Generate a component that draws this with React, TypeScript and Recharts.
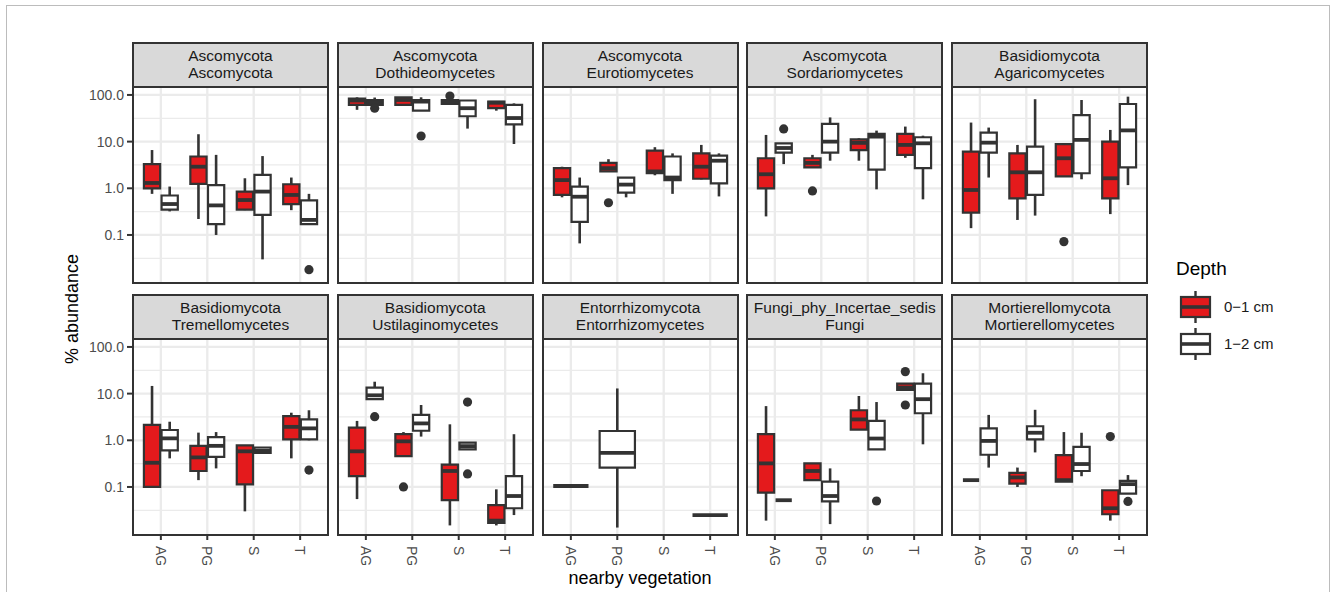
import React from 'react'
import {
  ComposedChart,
  XAxis,
  YAxis,
  CartesianGrid,
  ReferenceArea,
  ReferenceLine,
  Scatter,
} from 'recharts'

// [lower whisker, Q1, median, Q3, upper whisker] per vegetation type; null = no samples
type Stat = [number, number, number, number, number] | null
// [vegetation index, depth index, value]
type Outlier = [number, number, number]

const vegetation = ['AG', 'PG', 'S', 'T']
const depthLabels = ['0\u22121 cm', '1\u22122 cm']
const depthFills = ['#e41a1c', '#ffffff']
const yTicks = [0.1, 1, 10, 100]
const yMinorTicks = [0.0316, 0.316, 3.16, 31.6]

const stripLabels = [
  ['Ascomycota', 'Ascomycota'],
  ['Ascomycota', 'Dothideomycetes'],
  ['Ascomycota', 'Eurotiomycetes'],
  ['Ascomycota', 'Sordariomycetes'],
  ['Basidiomycota', 'Agaricomycetes'],
  ['Basidiomycota', 'Tremellomycetes'],
  ['Basidiomycota', 'Ustilaginomycetes'],
  ['Entorrhizomycota', 'Entorrhizomycetes'],
  ['Fungi_phy_Incertae_sedis', 'Fungi'],
  ['Mortierellomycota', 'Mortierellomycetes'],
]

const ascomycotaShallow: Stat[] = [
  [0.76, 1.0, 1.3, 3.3, 6.6],
  [0.22, 1.24, 2.9, 4.8, 14.4],
  [0.34, 0.35, 0.56, 0.85, 1.64],
  [0.34, 0.46, 0.72, 1.22, 1.7],
]
const ascomycotaDeep: Stat[] = [
  [0.32, 0.35, 0.46, 0.7, 1.09],
  [0.1, 0.17, 0.43, 1.17, 5.2],
  [0.03, 0.27, 0.85, 1.93, 4.9],
  [0.17, 0.17, 0.21, 0.55, 0.76],
]
const ascomycotaOut: Outlier[] = [[3, 1, 0.018]]

const dothideoShallow: Stat[] = [
  [48, 61, 76, 84, 89],
  [61, 61, 78, 89, 89],
  [64, 64, 72, 78, 78],
  [46, 52, 68, 72, 74],
]
const dothideoDeep: Stat[] = [
  [61, 61, 68, 78, 88],
  [46, 46, 72, 78, 89],
  [19, 35, 52, 76, 78],
  [8.9, 23.5, 32, 61, 66],
]
const dothideoOut: Outlier[] = [[0, 1, 52], [1, 1, 13.2], [2, 0, 95]]

const eurotioShallow: Stat[] = [
  [0.64, 0.72, 1.5, 2.7, 2.9],
  [2.3, 2.3, 2.7, 3.5, 4.2],
  [1.9, 2.1, 2.3, 6.4, 7.6],
  [1.55, 1.6, 2.9, 5.6, 8.5],
]
const eurotioDeep: Stat[] = [
  [0.066, 0.19, 0.66, 1.09, 1.7],
  [0.64, 0.81, 1.2, 1.7, 1.7],
  [0.76, 1.5, 1.7, 4.8, 5.6],
  [0.67, 1.28, 3.9, 5.0, 5.6],
]
const eurotioOut: Outlier[] = [[1, 0, 0.49]]

const sordarioShallow: Stat[] = [
  [0.25, 1.0, 2.0, 4.4, 13.9],
  [2.8, 2.8, 3.5, 4.4, 5.2],
  [3.9, 6.6, 9.4, 11.2, 11.8],
  [4.5, 5.2, 8.5, 14.6, 21],
]
const sordarioDeep: Stat[] = [
  [3.3, 5.8, 7.3, 9.2, 9.2],
  [3.9, 5.8, 10, 24, 33],
  [0.95, 2.5, 12.8, 14.6, 17.2],
  [0.58, 2.7, 9.2, 12.4, 13.4],
]
const sordarioOut: Outlier[] = [[0, 1, 18.7], [1, 0, 0.88]]

const agaricoShallow: Stat[] = [
  [0.14, 0.3, 0.92, 6.1, 25.6],
  [0.21, 0.61, 2.2, 5.6, 8.5],
  [1.8, 1.8, 4.4, 8.8, 9.2],
  [0.28, 0.61, 1.64, 10, 17.8],
]
const agaricoDeep: Stat[] = [
  [1.7, 5.8, 9.5, 15.6, 20],
  [0.26, 0.72, 2.2, 7.8, 81],
  [1.56, 2.1, 10.9, 37, 78],
  [1.17, 2.8, 17.4, 64, 92],
]
const agaricoOut: Outlier[] = [[2, 0, 0.072]]

const tremelloShallow: Stat[] = [
  [0.1, 0.1, 0.33, 2.15, 14.6],
  [0.14, 0.22, 0.43, 0.76, 1.46],
  [0.03, 0.114, 0.58, 0.78, 0.78],
  [0.41, 1.05, 1.94, 3.3, 3.9],
]
const tremelloDeep: Stat[] = [
  [0.41, 0.61, 1.1, 1.66, 2.5],
  [0.25, 0.44, 0.76, 1.17, 1.5],
  [0.54, 0.54, 0.6, 0.7, 0.7],
  [1.0, 1.05, 1.8, 2.8, 4.4],
]
const tremelloOut: Outlier[] = [[3, 1, 0.23]]

const ustilagoShallow: Stat[] = [
  [0.055, 0.17, 0.58, 1.87, 2.6],
  [0.46, 0.46, 0.95, 1.35, 1.5],
  [0.015, 0.052, 0.22, 0.3, 2.2],
  [0.015, 0.017, 0.019, 0.041, 0.089],
]
const ustilagoDeep: Stat[] = [
  [7.6, 7.6, 9.2, 13.5, 18],
  [1.2, 1.6, 2.3, 3.5, 5.7],
  [0.64, 0.64, 0.75, 0.89, 0.89],
  [0.025, 0.035, 0.064, 0.17, 1.35],
]
const ustilagoOut: Outlier[] = [[0, 1, 3.2], [1, 0, 0.1], [2, 1, 6.6], [2, 1, 0.19]]

const entorrhizoShallow: Stat[] = [
  [0.105, 0.105, 0.105, 0.105, 0.105],
  null,
  null,
  null,
]
const entorrhizoDeep: Stat[] = [
  null,
  [0.0135, 0.26, 0.54, 1.58, 12.9],
  null,
  [0.025, 0.025, 0.025, 0.025, 0.025],
]
const entorrhizoOut: Outlier[] = []

const fungiShallow: Stat[] = [
  [0.019, 0.076, 0.32, 1.35, 5.4],
  [0.14, 0.14, 0.22, 0.32, 0.32],
  [1.7, 1.7, 2.8, 4.4, 8.9],
  [12, 12, 13.5, 16.4, 16.4],
]
const fungiDeep: Stat[] = [
  [0.052, 0.052, 0.052, 0.052, 0.052],
  [0.016, 0.049, 0.064, 0.13, 0.25],
  [0.64, 0.64, 1.09, 2.6, 6.6],
  [0.82, 3.8, 7.6, 16.4, 27.3],
]
const fungiOut: Outlier[] = [[2, 1, 0.05], [3, 0, 29.6], [3, 0, 5.7]]

const mortierellaShallow: Stat[] = [
  [0.14, 0.14, 0.14, 0.14, 0.14],
  [0.1, 0.118, 0.16, 0.2, 0.26],
  [0.13, 0.13, 0.14, 0.48, 1.5],
  [0.019, 0.026, 0.035, 0.085, 0.085],
]
const mortierellaDeep: Stat[] = [
  [0.26, 0.49, 0.97, 1.8, 3.5],
  [0.55, 1.05, 1.45, 2.0, 4.5],
  [0.17, 0.22, 0.31, 0.72, 1.45],
  [0.072, 0.072, 0.115, 0.135, 0.18],
]
const mortierellaOut: Outlier[] = [[3, 0, 1.2], [3, 1, 0.049]]

const facets = [
  { shallow: ascomycotaShallow, deep: ascomycotaDeep, out: ascomycotaOut },
  { shallow: dothideoShallow, deep: dothideoDeep, out: dothideoOut },
  { shallow: eurotioShallow, deep: eurotioDeep, out: eurotioOut },
  { shallow: sordarioShallow, deep: sordarioDeep, out: sordarioOut },
  { shallow: agaricoShallow, deep: agaricoDeep, out: agaricoOut },
  { shallow: tremelloShallow, deep: tremelloDeep, out: tremelloOut },
  { shallow: ustilagoShallow, deep: ustilagoDeep, out: ustilagoOut },
  { shallow: entorrhizoShallow, deep: entorrhizoDeep, out: entorrhizoOut },
  { shallow: fungiShallow, deep: fungiDeep, out: fungiOut },
  { shallow: mortierellaShallow, deep: mortierellaDeep, out: mortierellaOut },
]

// layout
const FONT = '"Liberation Sans", Arial, Helvetica, sans-serif'
const INK = '#333333'
const GRID = '#ebebeb'
const PW = 195
const PH = 196
const AXIS_W = 60
const AXIS_H = 50
const STRIP_H = 45
const colLefts = [133, 337.75, 542.5, 747.25, 952]
const rowTops = [87, 338.5]
const Y_DOMAIN = [0.00935, 148]
const DODGE = 0.19
const HALF = 0.175
const FULL_HALF = 0.38

const VegTick = (props: any) => {
  const { x, y, payload } = props
  return (
    <text
      transform={`translate(${x},${y + 4}) rotate(90)`}
      textAnchor="start"
      dominantBaseline="central"
      fontSize={14}
      fontFamily={FONT}
      fill="#4d4d4d"
    >
      {vegetation[payload.value]}
    </text>
  )
}

const EmptyTick = () => <g />

const OutlierDot = (props: any) => <circle cx={props.cx} cy={props.cy} r={4.6} fill={INK} />

function boxMarks(shallow: Stat[], deep: Stat[]) {
  const whiskers: React.ReactNode[] = []
  const boxes: React.ReactNode[] = []
  const medians: React.ReactNode[] = []
  vegetation.forEach((_, v) => {
    ;[shallow, deep].forEach((series, d) => {
      const s = series[v]
      if (!s) return
      const other = (d === 0 ? deep : shallow)[v]
      const c = other ? v + (d === 0 ? -DODGE : DODGE) : v
      const hw = other ? HALF : FULL_HALF
      const [lo, q1, med, q3, hi] = s
      const k = `${v}-${d}`
      if (lo < q1)
        whiskers.push(
          <ReferenceLine key={'wl' + k} segment={[{ x: c, y: lo }, { x: c, y: q1 }]}
            stroke={INK} strokeWidth={2.6} ifOverflow="visible" />
        )
      if (hi > q3)
        whiskers.push(
          <ReferenceLine key={'wh' + k} segment={[{ x: c, y: q3 }, { x: c, y: hi }]}
            stroke={INK} strokeWidth={2.6} ifOverflow="visible" />
        )
      boxes.push(
        <ReferenceArea key={'b' + k} x1={c - hw} x2={c + hw} y1={q1} y2={q3}
          fill={depthFills[d]} fillOpacity={1} stroke={INK} strokeWidth={2.2} ifOverflow="visible" />
      )
      medians.push(
        <ReferenceLine key={'m' + k} segment={[{ x: c - hw, y: med }, { x: c + hw, y: med }]}
          stroke={INK} strokeWidth={3.8} ifOverflow="visible" />
      )
    })
  })
  return [...whiskers, ...boxes, ...medians]
}

function Panel({ idx }: { idx: number }) {
  const col = idx % 5
  const row = Math.floor(idx / 5)
  const left = colLefts[col]
  const top = rowTops[row]
  const f = facets[idx]
  const points = f.out.map(([v, d, value]) => {
    const other = (d === 0 ? f.deep : f.shallow)[v]
    return { x: other ? v + (d === 0 ? -DODGE : DODGE) : v, y: value }
  })

  return (
    <>
      <div style={{ position: 'absolute', left: left - AXIS_W, top }}>
        <ComposedChart
          width={AXIS_W + PW}
          height={PH + AXIS_H}
          margin={{ top: 0, right: 0, bottom: 0, left: 0 }}
        >
          <CartesianGrid horizontalValues={yMinorTicks} vertical={false} stroke={GRID} strokeWidth={1.3} />
          <CartesianGrid horizontalValues={yTicks} verticalValues={[0, 1, 2, 3]} stroke={GRID} strokeWidth={2.3} />
          <XAxis
            type="number"
            dataKey="x"
            domain={[-0.6, 3.6]}
            ticks={[0, 1, 2, 3]}
            interval={0}
            allowDataOverflow
            height={AXIS_H}
            axisLine={false}
            tickSize={5}
            tickLine={row === 1 ? { stroke: INK, strokeWidth: 2 } : { stroke: 'none' }}
            tick={row === 1 ? <VegTick /> : <EmptyTick />}
          />
          <YAxis
            type="number"
            dataKey="y"
            scale="log"
            domain={Y_DOMAIN}
            allowDataOverflow
            ticks={yTicks}
            interval={0}
            width={AXIS_W}
            axisLine={false}
            tickSize={6}
            tickMargin={3}
            tickFormatter={(t: number) => t.toFixed(1)}
            tickLine={col === 0 ? { stroke: INK, strokeWidth: 2 } : { stroke: 'none' }}
            tick={col === 0 ? { fill: '#4d4d4d', fontSize: 14, fontFamily: FONT } : <EmptyTick />}
          />
          {boxMarks(f.shallow, f.deep)}
          <Scatter data={points} shape={<OutlierDot />} isAnimationActive={false} />
        </ComposedChart>
      </div>
      {/* strip */}
      <div
        style={{
          position: 'absolute',
          left: left - 1,
          top: top - STRIP_H,
          width: PW + 2,
          height: STRIP_H + 1,
          boxSizing: 'border-box',
          border: `2px solid ${INK}`,
          background: '#d9d9d9',
          display: 'flex',
          flexDirection: 'column',
          justifyContent: 'center',
          alignItems: 'center',
          fontSize: 15.5,
          lineHeight: '16.7px',
          color: '#1a1a1a',
        }}
      >
        <div>{stripLabels[idx][0]}</div>
        <div>{stripLabels[idx][1]}</div>
      </div>
      {/* panel border */}
      <div
        style={{
          position: 'absolute',
          left: left - 1,
          top: top - 1,
          width: PW + 2,
          height: PH + 2,
          boxSizing: 'border-box',
          border: `2px solid ${INK}`,
          pointerEvents: 'none',
        }}
      />
    </>
  )
}

function LegendKey({ d }: { d: number }) {
  return (
    <svg width={40} height={34} style={{ position: 'absolute', left: 1176, top: 289.5 + d * 37 }}>
      <line x1={19.5} x2={19.5} y1={1} y2={33} stroke={INK} strokeWidth={2.4} />
      <rect x={5} y={7} width={29} height={20} fill={depthFills[d]} stroke={INK} strokeWidth={2.2} />
      <line x1={5} x2={34} y1={17} y2={17} stroke={INK} strokeWidth={3.6} />
    </svg>
  )
}

export default function App() {
  return (
    <div
      style={{
        position: 'absolute',
        left: 0,
        top: 0,
        width: 1332,
        height: 592,
        overflow: 'hidden',
        background: '#fff',
        fontFamily: FONT,
      }}
    >
      <div
        style={{
          position: 'absolute',
          left: 6,
          top: 4.5,
          width: 1324,
          height: 620,
          boxSizing: 'border-box',
          border: '1.5px solid #bcbcbc',
        }}
      />
      {facets.map((_, i) => (
        <Panel key={i} idx={i} />
      ))}
      <div
        style={{
          position: 'absolute',
          left: 72 - 100,
          top: 309 - 12,
          width: 200,
          height: 24,
          lineHeight: '24px',
          textAlign: 'center',
          fontSize: 18,
          color: '#000',
          transform: 'rotate(-90deg)',
        }}
      >
        % abundance
      </div>
      <div
        style={{
          position: 'absolute',
          left: 640 - 100,
          top: 578 - 12,
          width: 200,
          height: 24,
          lineHeight: '24px',
          textAlign: 'center',
          fontSize: 18,
          color: '#000',
        }}
      >
        nearby vegetation
      </div>
      <div style={{ position: 'absolute', left: 1176, top: 257, lineHeight: '24px', fontSize: 19, color: '#000' }}>
        Depth
      </div>
      {depthLabels.map((label, d) => (
        <React.Fragment key={label}>
          <LegendKey d={d} />
          <div
            style={{
              position: 'absolute',
              left: 1224,
              top: 306.5 + d * 37 - 10,
              lineHeight: '20px',
              fontSize: 15,
              color: '#1a1a1a',
            }}
          >
            {label}
          </div>
        </React.Fragment>
      ))}
    </div>
  )
}
